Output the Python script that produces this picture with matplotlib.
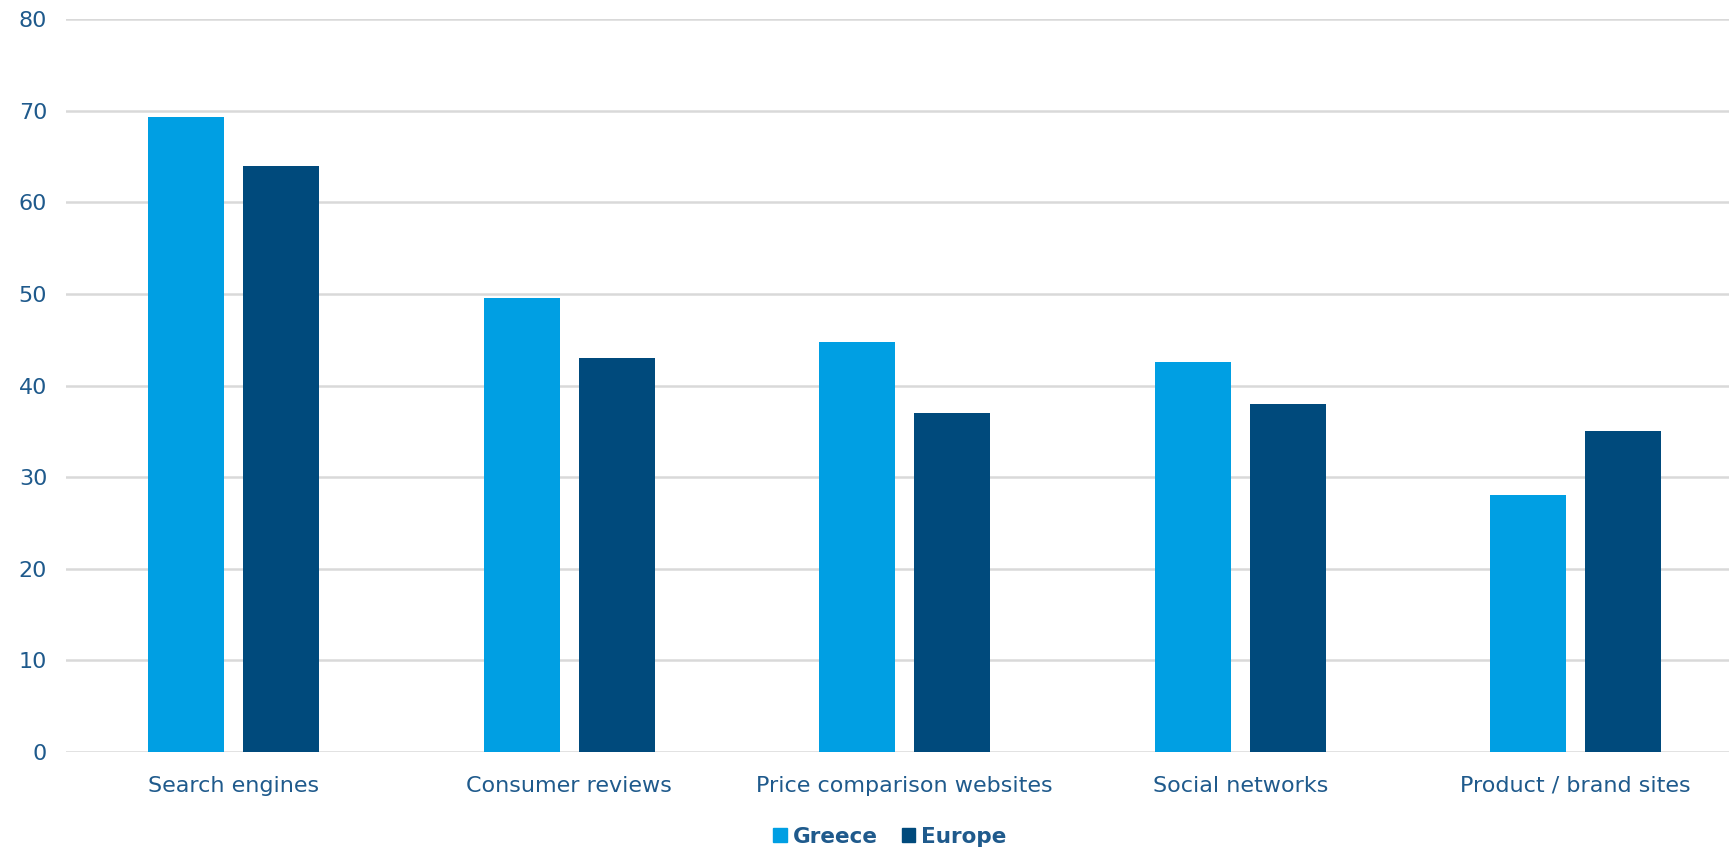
import numpy as np
import matplotlib.pyplot as plt
from matplotlib.patches import Patch

categories = ["Search engines", "Consumer reviews", "Price comparison websites",
              "Social networks", "Product / brand sites"]
greece = [69.3, 49.5, 44.7, 42.6, 28.0]
europe = [64.0, 43.0, 37.0, 38.0, 35.0]
series_names = ["Greece", "Europe"]
yticks = [0, 10, 20, 30, 40, 50, 60, 70, 80]

c_greece = "#009FE3"
c_europe = "#004A7C"
c_text = "#1F5A8C"
c_grid = "#D9D9D9"

plt.rcParams['font.family'] = ['DejaVu Sans']

W, H = 1729, 852
fig = plt.figure(figsize=(W / 100, H / 100), dpi=100)
# plot area runs a little past the right edge of the figure
ax = fig.add_axes([66 / W, 1 - 752 / H, 1677.5 / W, (752 - 19) / H])

x = np.arange(len(categories))
w = 0.2265
off = 0.1416
ax.bar(x - off, greece, w, color=c_greece, zorder=3)
ax.bar(x + off, europe, w, color=c_europe, zorder=3)

ax.set_xlim(-0.5, len(categories) - 0.5)
ax.set_ylim(0, 80)
ax.set_yticks(yticks)
ax.yaxis.grid(True, color=c_grid, linewidth=1.8, zorder=0)
ax.set_axisbelow(True)
for s in ax.spines.values():
    s.set_visible(False)
ax.tick_params(axis='both', length=0, labelsize=16, labelcolor=c_text)
ax.tick_params(axis='y', pad=13.5)
ax.tick_params(axis='x', pad=17)
ax.set_xticks(x)
ax.set_xticklabels(categories)

handles = [Patch(color=c_greece), Patch(color=c_europe)]
leg = fig.legend(handles, series_names, loc='center', bbox_to_anchor=(890 / W, 1 - 837 / H),
                 ncol=2, frameon=False, handlelength=0.62, handleheight=0.62,
                 handletextpad=0.3, columnspacing=1.1,
                 prop={'size': 15.5, 'weight': 'bold'})
for t in leg.get_texts():
    t.set_color(c_text)

fig.savefig("out.png", dpi=100, facecolor="white")
